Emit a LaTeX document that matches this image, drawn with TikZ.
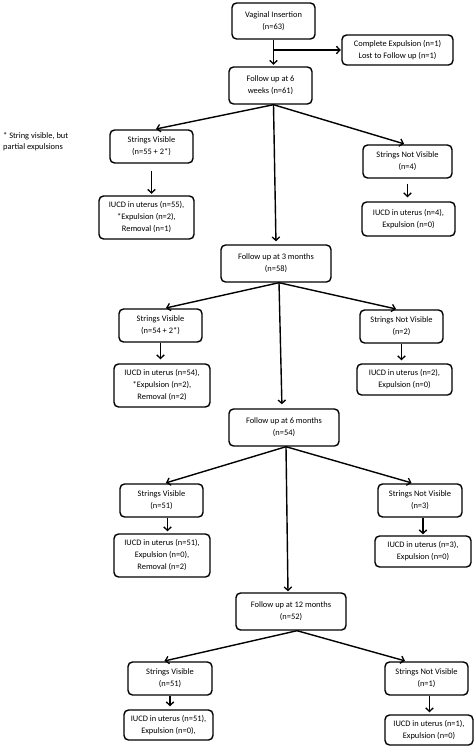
\documentclass[tikz,border=0pt]{standalone}
\usepackage{fontspec}
\setmainfont{Carlito}
\usetikzlibrary{arrows.meta}
\begin{document}
\begin{tikzpicture}[x=1pt,y=-1pt,
  box/.style={draw, rounded corners=4.5pt, line width=1.4pt, align=center, inner sep=1pt,
    font=\fontsize{8.4}{12}\selectfont},
  arr/.style={line width=1.4pt, -{Straight Barb[length=3.5pt,width=7.5pt,line width=1.3pt]}, shorten >=1.5pt},
  note/.style={align=left, inner sep=0pt, anchor=north west, font=\fontsize{8.4}{11}\selectfont},
]
\useasboundingbox (0,0) rectangle (474,747);
% top
\node[box, minimum width=83pt, minimum height=36pt] (vi) at (273.5,21) {Vaginal Insertion\\(n=63)};
\node[box, minimum width=111pt, minimum height=30pt] (ce) at (397.5,50) {Complete Expulsion (n=1)\\Lost to Follow up (n=1)};
\node[box, minimum width=83pt, minimum height=37pt] (fu6w) at (270.5,85.5) {Follow up at 6\\weeks (n=61)};
\node[note] (nt) at (3,132) {* String visible, but\\partial expulsions};
% 6 weeks
\node[box, minimum width=83pt, minimum height=33pt] (sv1) at (151.5,146.5) {Strings Visible\\(n=55 + 2*)};
\node[box, minimum width=95pt, minimum height=43pt] (iu1) at (146.5,217.5) {IUCD in uterus (n=55),\\*Expulsion (n=2),\\Removal (n=1)};
\node[box, minimum width=89pt, minimum height=33pt] (snv1) at (407.5,161.5) {Strings Not Visible\\(n=4)};
\node[box, minimum width=93pt, minimum height=34pt] (iun1) at (408.5,219) {IUCD in uterus (n=4),\\Expulsion (n=0)};
% 3 months
\node[box, minimum width=110pt, minimum height=37pt] (fu3) at (276,263.5) {Follow up at 3 months\\(n=58)};
\node[box, minimum width=83pt, minimum height=33pt] (sv2) at (160.5,325.5) {Strings Visible\\(n=54 + 2*)};
\node[box, minimum width=96pt, minimum height=43pt] (iu2) at (162,385.5) {IUCD in uterus (n=54),\\*Expulsion (n=2),\\Removal (n=2)};
\node[box, minimum width=83pt, minimum height=33pt] (snv2) at (401.5,326.5) {Strings Not Visible\\(n=2)};
\node[box, minimum width=95pt, minimum height=31pt] (iun2) at (404.5,379.5) {IUCD in uterus (n=2),\\Expulsion (n=0)};
% 6 months
\node[box, minimum width=110pt, minimum height=37pt] (fu6m) at (284,427.5) {Follow up at 6 months\\(n=54)};
\node[box, minimum width=83pt, minimum height=33pt] (sv3) at (161.5,500.5) {Strings Visible\\(n=51)};
\node[box, minimum width=96pt, minimum height=43pt] (iu3) at (162,555.5) {IUCD in uterus (n=51),\\Expulsion (n=0),\\Removal (n=2)};
\node[box, minimum width=84pt, minimum height=33pt] (snv3) at (420,500.5) {Strings Not Visible\\(n=3)};
\node[box, minimum width=96pt, minimum height=31pt] (iun3) at (423,551.5) {IUCD in uterus (n=3),\\Expulsion (n=0)};
% 12 months
\node[box, minimum width=110pt, minimum height=37pt] (fu12) at (291,611.5) {Follow up at 12 months\\(n=52)};
\node[box, minimum width=84pt, minimum height=33pt] (sv4) at (170,678.5) {Strings Visible\\(n=51)};
\node[box, minimum width=89pt, minimum height=30pt] (iu4) at (168.5,725) {IUCD in uterus (n=51),\\Expulsion (n=0),};
\node[box, minimum width=83pt, minimum height=33pt] (snv4) at (426.5,678.5) {Strings Not Visible\\(n=1)};
\node[box, minimum width=88pt, minimum height=30pt] (iun4) at (429,730) {IUCD in uterus (n=1),\\Expulsion (n=0)};
% connectors
\draw[arr] (vi.south) -- (vi.south |- fu6w.north);
\draw[arr, shorten >=0.5pt] (vi.south |- ce.west) -- (ce.west);
\draw[arr] ([xshift=3pt]fu6w.south) -- ([xshift=3pt]sv1.north);
\draw[arr] ([xshift=3pt]fu6w.south) -- ([xshift=-2pt]snv1.north);
\draw[arr, shorten >=3pt] ([xshift=3pt]fu6w.south) -- (fu3.north);
\draw[arr, shorten <=7pt] (sv1.south) -- (sv1.south |- iu1.north);
\draw[arr, shorten <=5pt, shorten >=4pt] (snv1.south) -- (snv1.south |- iun1.north);
\draw[arr] ([xshift=3pt]fu3.south) -- ([xshift=4pt]sv2.north);
\draw[arr] ([xshift=3pt]fu3.south) -- ([xshift=-4pt]snv2.north);
\draw[arr, shorten >=4pt] ([xshift=3pt]fu3.south) -- ([xshift=-2pt]fu6m.north);
\draw[arr, shorten >=4pt] (sv2.south) -- (sv2.south |- iu2.north);
\draw[arr, shorten >=3pt] (snv2.south) -- (snv2.south |- iun2.north);
\draw[arr] ([xshift=2pt]fu6m.south) -- ([xshift=3pt]sv3.north);
\draw[arr] ([xshift=2pt]fu6m.south) -- ([xshift=-7pt]snv3.north);
\draw[arr, shorten >=1pt] ([xshift=2pt]fu6m.south) -- ([xshift=-3pt]fu12.north);
\draw[arr, shorten >=2pt] ([xshift=6pt]sv3.south) -- ([xshift=6pt]sv3.south |- iu3.north);
\draw[arr, shorten >=1pt] ([xshift=3pt]snv3.south) -- ([xshift=3pt]snv3.south |- iun3.north);
\draw[arr] ([xshift=6pt]fu12.south) -- ([xshift=-7pt]sv4.north);
\draw[arr] ([xshift=6pt]fu12.south) -- ([xshift=-20pt]snv4.north);
\draw[arr, shorten >=3pt] (sv4.south) -- (sv4.south |- iu4.north);
\draw[arr, shorten >=2pt] ([xshift=3pt]snv4.south) -- ([xshift=3pt]snv4.south |- iun4.north);
\end{tikzpicture}
\end{document}
